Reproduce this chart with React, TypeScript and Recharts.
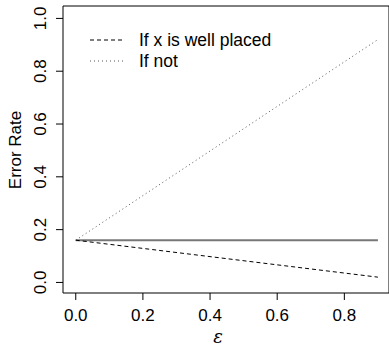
import React from 'react';
import { LineChart, Line, XAxis, YAxis, ReferenceArea } from 'recharts';

// epsilon values where the rates are shown
const epsilon = [0, 0.9];
// error rate when x is well placed (dashed)
const wellPlaced = [0.16, 0.02];
// error rate if not (dotted)
const notPlaced = [0.16, 0.92];
// baseline error rate (solid)
const baseline = [0.16, 0.16];

const xTicks = [0, 0.2, 0.4, 0.6, 0.8];
const yTicks = [0, 0.2, 0.4, 0.6, 0.8, 1.0];

const data = epsilon.map((e, i) => ({
  eps: e,
  well: wellPlaced[i],
  not: notPlaced[i],
  base: baseline[i],
}));

const FONT = 'Liberation Sans, Arial, sans-serif';

const XTick = (props: any) => {
  const { x, y, payload } = props;
  return (
    <text x={x} y={y + 19} textAnchor="middle" fontFamily={FONT} fontSize={17} fill="#000">
      {payload.value.toFixed(1)}
    </text>
  );
};

const YTick = (props: any) => {
  const { x, y, payload } = props;
  const tx = x - 14;
  return (
    <text
      x={tx}
      y={y + 6}
      transform={`rotate(-90, ${tx}, ${y})`}
      textAnchor="middle"
      fontFamily={FONT}
      fontSize={17}
      fill="#000"
    >
      {payload.value.toFixed(1)}
    </text>
  );
};

export default function App() {
  return (
    <div style={{ position: 'absolute', left: 0, top: 0, width: 389, height: 346, background: '#fff' }}>
      <LineChart width={389} height={346} data={data} margin={{ top: 6, right: 0, bottom: 23, left: 33 }}>
        <XAxis
          dataKey="eps"
          type="number"
          domain={[-0.038, 0.933]}
          ticks={xTicks}
          axisLine={false}
          tickLine={{ stroke: '#000' }}
          tickSize={7}
          tick={<XTick />}
          height={30}
          allowDataOverflow
        />
        <YAxis
          type="number"
          domain={[-0.04, 1.047]}
          ticks={yTicks}
          axisLine={false}
          tickLine={{ stroke: '#000' }}
          tickSize={7}
          tick={<YTick />}
          width={30}
          allowDataOverflow
        />
        <ReferenceArea
          x1={-0.038}
          x2={0.933}
          y1={-0.04}
          y2={1.047}
          fill="none"
          stroke="#000"
          strokeWidth={1}
          ifOverflow="visible"
        />
        <Line dataKey="base" stroke="#777" strokeWidth={2} dot={false} isAnimationActive={false} />
        <Line dataKey="well" stroke="#000" strokeWidth={1} strokeDasharray="4 3" dot={false} isAnimationActive={false} />
        <Line dataKey="not" stroke="#555" strokeWidth={1} strokeDasharray="1 3" dot={false} isAnimationActive={false} />
        {/* legend, placed like R's legend() in the top left */}
        <line x1={90} y1={40} x2={125} y2={40} stroke="#000" strokeDasharray="4 3" />
        <text x={139} y={46} fontFamily={FONT} fontSize={17.5} fill="#000">If x is well placed</text>
        <line x1={90} y1={61} x2={125} y2={61} stroke="#555" strokeDasharray="1 3" />
        <text x={139} y={67} fontFamily={FONT} fontSize={17.5} fill="#000">If not</text>
        {/* axis titles */}
        <text
          x={21}
          y={150}
          transform="rotate(-90, 21, 150)"
          textAnchor="middle"
          fontFamily={FONT}
          fontSize={17}
          fill="#000"
        >
          Error Rate
        </text>
        <text x={218} y={343} textAnchor="middle" fontFamily="DejaVu Serif, serif" fontStyle="italic" fontSize={18} fill="#000">
          ε
        </text>
      </LineChart>
    </div>
  );
}
